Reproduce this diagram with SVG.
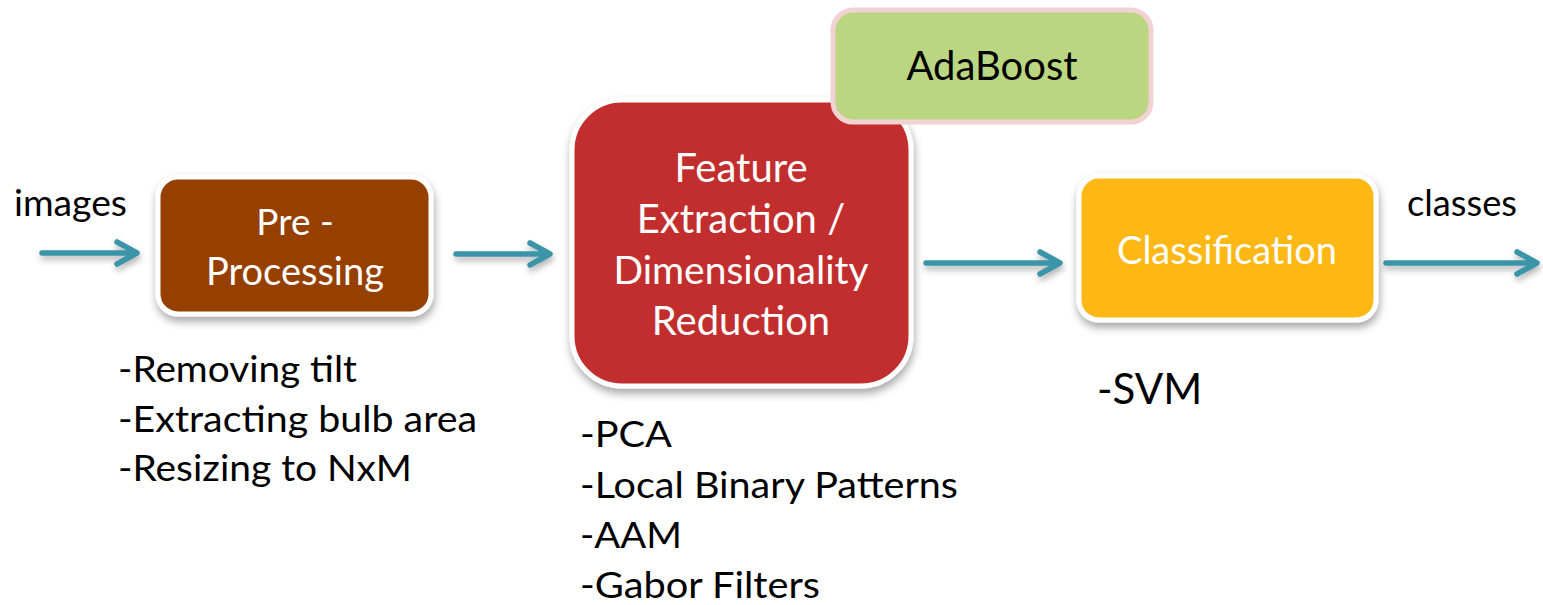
<svg xmlns="http://www.w3.org/2000/svg" width="1543" height="605" viewBox="0 0 1543 605">
<style>
text{font-family:Lato,"Open Sans","DejaVu Sans",sans-serif}
.w{fill:#ffffff}
.k{fill:#000000}
.box{stroke:#ffffff;stroke-width:5}
.arr{fill:none;stroke:#3A94A8;stroke-width:5.5;stroke-linecap:round;stroke-linejoin:round}
.note{font-size:37px}
</style>
<defs>
<filter id="sh" x="-20%" y="-20%" width="140%" height="150%">
<feDropShadow dx="1" dy="5" stdDeviation="4" flood-color="#000" flood-opacity="0.35"/>
</filter>
<filter id="sha" x="-10%" y="-100%" width="120%" height="300%">
<feDropShadow dx="1" dy="4" stdDeviation="3" flood-color="#000" flood-opacity="0.3"/>
</filter>
</defs>
<g id="connectors" filter="url(#sha)">
<path class="arr" d="M42 253H135M117 242L137 253L117 264"/>
<path class="arr" d="M456 254H548M530 243L550 254L530 265"/>
<path class="arr" d="M926 263H1058M1040 252L1060 263L1040 274"/>
<path class="arr" d="M1386 263H1535M1517 252L1537 263L1517 274"/>
</g>
<g id="label-images"><text class="k" x="14" y="216" font-size="36" textLength="113" lengthAdjust="spacingAndGlyphs">images</text></g>
<g id="label-classes"><text class="k" x="1407" y="216" font-size="36" textLength="110" lengthAdjust="spacingAndGlyphs">classes</text></g>
<g id="preprocessing">
<rect class="box" x="158" y="177" width="273" height="137" rx="20" fill="#963F03" filter="url(#sh)"/>
<text class="w" x="295" y="235" font-size="37" text-anchor="middle">Pre -</text>
<text class="w" x="295" y="285" font-size="38" text-anchor="middle">Processing</text>
</g>
<g id="feature">
<rect class="box" x="572" y="100" width="339" height="286" rx="50" fill="#C22D2F" filter="url(#sh)"/>
<text class="w" x="741" y="182" font-size="40" text-anchor="middle">Feature</text>
<text class="w" x="741" y="233" font-size="40" text-anchor="middle">Extraction /</text>
<text class="w" x="741" y="284" font-size="39" text-anchor="middle">Dimensionality</text>
<text class="w" x="741" y="335" font-size="40" text-anchor="middle">Reduction</text>
</g>
<g id="adaboost">
<rect x="833" y="10" width="318" height="112" rx="20" fill="#BBD680" stroke="#F2D2D2" stroke-width="5"/>
<text class="k" x="992" y="80" font-size="40" text-anchor="middle">AdaBoost</text>
</g>
<g id="classification">
<rect class="box" x="1079" y="176" width="297" height="144" rx="20" fill="#FDB812" filter="url(#sh)"/>
<text class="w" x="1227" y="264" font-size="38" text-anchor="middle">Classification</text>
</g>
<g id="notes-pre">
<text class="k note" x="118" y="382" textLength="239" lengthAdjust="spacingAndGlyphs">-Removing tilt</text>
<text class="k note" x="118" y="432" textLength="359" lengthAdjust="spacingAndGlyphs">-Extracting bulb area</text>
<text class="k note" x="118" y="481" textLength="294" lengthAdjust="spacingAndGlyphs">-Resizing to NxM</text>
</g>
<g id="notes-feature">
<text class="k note" x="580" y="447" textLength="92" lengthAdjust="spacingAndGlyphs">-PCA</text>
<text class="k note" x="580" y="498" textLength="378" lengthAdjust="spacingAndGlyphs">-Local Binary Patterns</text>
<text class="k note" x="580" y="548" textLength="102" lengthAdjust="spacingAndGlyphs">-AAM</text>
<text class="k note" x="580" y="598" textLength="240" lengthAdjust="spacingAndGlyphs">-Gabor Filters</text>
</g>
<g id="notes-class">
<text class="k" x="1097" y="404" font-size="42">-SVM</text>
</g>
</svg>
